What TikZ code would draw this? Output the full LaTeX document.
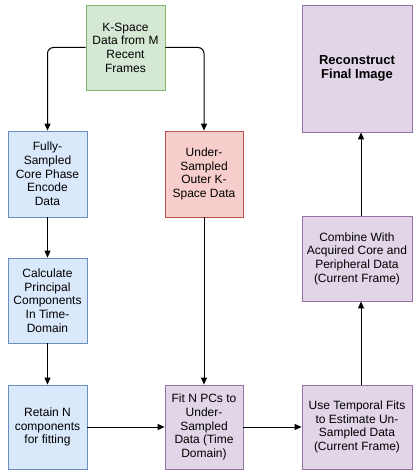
\documentclass[tikz,border=0pt]{standalone}
\usepackage{fontspec}
\setmainfont{Liberation Sans}
\usetikzlibrary{arrows.meta}
\definecolor{greenfill}{HTML}{D5E8D4}\definecolor{greenline}{HTML}{82B366}
\definecolor{bluefill}{HTML}{DAE8FC}\definecolor{blueline}{HTML}{6C8EBF}
\definecolor{redfill}{HTML}{F8CECC}\definecolor{redline}{HTML}{B85450}
\definecolor{purplefill}{HTML}{E1D5E7}\definecolor{purpleline}{HTML}{9673A6}
\begin{document}
\begin{tikzpicture}[x=1pt,y=-1pt,
    box/.style={rectangle, line width=0.8pt, align=center, inner sep=1pt,
      font=\fontsize{12}{13.7}\selectfont},
    greenbox/.style={box, draw=greenline, fill=greenfill},
    bluebox/.style={box, draw=blueline, fill=bluefill, minimum width=79pt},
    redbox/.style={box, draw=redline, fill=redfill, minimum width=78pt},
    purplebox/.style={box, draw=purpleline, fill=purplefill},
    arr/.style={-{Triangle[length=7pt,width=6pt]}, line width=1pt}]
  \useasboundingbox (0,0) rectangle (414,470);

  % Top row
  \node[greenbox, minimum width=79pt, minimum height=85pt] (kspace) at (125.5,47.5)
    {K-Space\\Data from M\\Recent\\Frames};
  \node[purplebox, minimum width=110pt, minimum height=127pt] (recon) at (357,68.5)
    {\bfseries\fontsize{13}{15.5}\selectfont Reconstruct\\\bfseries\fontsize{13}{15.5}\selectfont Final Image};

  % Second row
  \node[bluebox, minimum height=86pt] (core) at (47.5,174)
    {Fully-\\Sampled\\Core Phase\\Encode\\Data};
  \node[redbox, minimum height=86pt] (outer) at (204,174)
    {Under-\\Sampled\\Outer K-\\Space Data};
  \node[purplebox, minimum width=110pt, minimum height=85pt] (combine) at (357,258.5)
    {Combine With\\Acquired Core and\\Peripheral Data\\(Current Frame)};

  % Third row
  \node[bluebox, minimum height=85pt] (pca) at (47.5,300.5)
    {Calculate\\Principal\\Components\\In Time-\\Domain};

  % Bottom row
  \node[bluebox, minimum height=84pt] (retain) at (47.5,427)
    {Retain N\\components\\for fitting};
  \node[purplebox, minimum width=78pt, minimum height=84pt] (fit) at (204,427)
    {Fit N PCs to\\Under-\\Sampled\\Data (Time\\Domain)};
  \node[purplebox, minimum width=110pt, minimum height=84pt] (estimate) at (357,427)
    {Use Temporal Fits\\to Estimate Un-\\Sampled Data\\(Current Frame)};

  % Connectors
  \draw[arr, rounded corners=6pt] (kspace.west) -| (core.north);
  \draw[arr, rounded corners=6pt] (kspace.east) -| (outer.north);
  \draw[arr] (core) -- (pca);
  \draw[arr] (pca) -- (retain);
  \draw[arr] (retain) -- (fit);
  \draw[arr] (outer) -- (fit);
  \draw[arr] (fit) -- (estimate);
  \draw[arr] (estimate.north) ++(4,0) coordinate (estup) -- (estup |- combine.south);
  \draw[arr] (combine.north) ++(4,0) coordinate (combup) -- (combup |- recon.south);
\end{tikzpicture}
\end{document}
